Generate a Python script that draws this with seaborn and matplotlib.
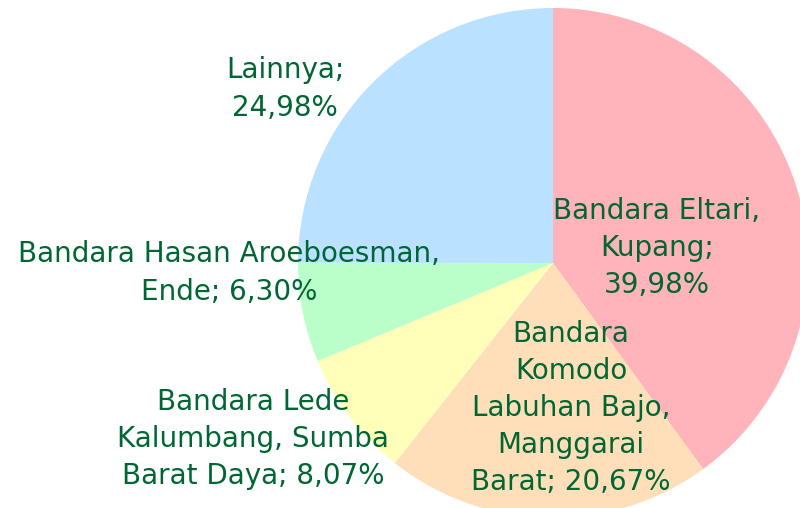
import matplotlib
matplotlib.use("Agg")
import matplotlib.pyplot as plt
import seaborn as sns


# DATA

labels = [
    "Bandara Eltari,\nKupang;\n39,98%",
    "Bandara\nKomodo\nLabuhan Bajo,\nManggarai\nBarat; 20,67%",
    "Bandara Lede\nKalumbang, Sumba\nBarat Daya; 8,07%",
    "Bandara Hasan Aroeboesman,\nEnde; 6,30%",
    "Lainnya;\n24,98%",
]
shares = [39.98, 20.67, 8.07, 6.30, 24.98]
colors = ["#FFB3BA", "#FFDFBA", "#FFFFBA", "#BAFFC9", "#BAE1FF"]

# label centres in pixel coords (y from top)
label_pos = [(657, 248), (571, 408), (253, 439), (229, 273), (285, 89)]


sns.set_theme(style="white")
plt.rcParams["font.family"] = ["DejaVu Sans"]

fig = plt.figure(figsize=(8, 5.08), dpi=100)
ax = fig.add_axes([0, 0, 1, 1])

ax.pie(
    shares,
    colors=colors,
    startangle=90,
    counterclock=False,
    center=(553, 508 - 263),
    radius=255,
    wedgeprops={"linewidth": 0},
    frame=True,
)

for lab, (x, y) in zip(labels, label_pos):
    ax.text(
        x, 508 - y, lab,
        ha="center", va="center",
        fontsize=20, color="#006633",
        linespacing=1.42,
    )

ax.set_xlim(0, 800)
ax.set_ylim(0, 508)
ax.set_aspect("equal")
ax.axis("off")

plt.savefig("out.png", dpi=100)
plt.close()
